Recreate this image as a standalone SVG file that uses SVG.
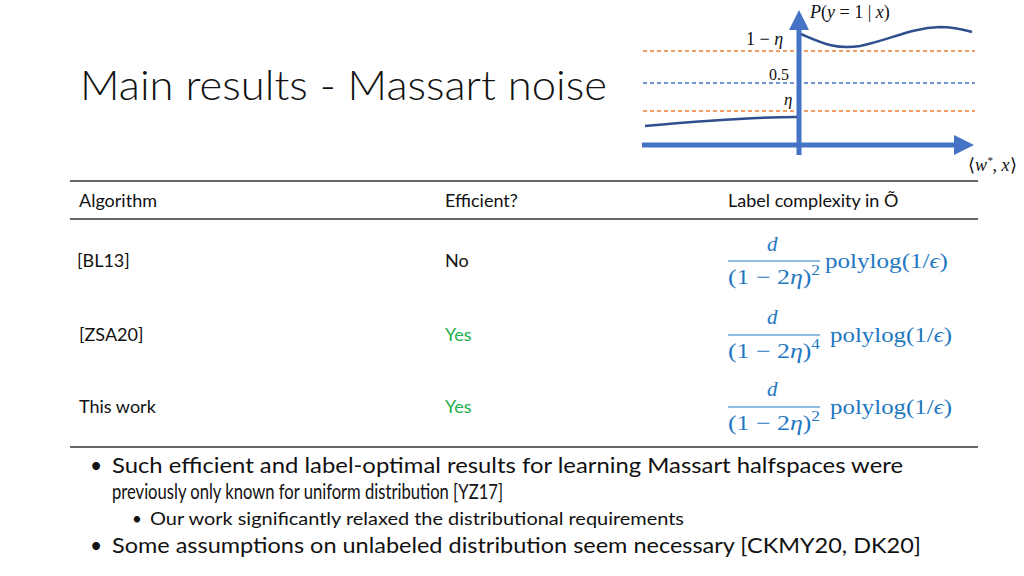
<svg xmlns="http://www.w3.org/2000/svg" width="1024" height="576" viewBox="0 0 1024 576">
<style>
.t{font-family:Lato,"Noto Sans","Liberation Sans",sans-serif;fill:#111}
.m{font-family:"Liberation Serif",serif;font-style:italic;fill:#111}
.n{font-family:"Liberation Serif",serif;fill:#111}
.b{font-family:"Liberation Serif",serif;fill:#1f78c1}
.bi{font-family:"Liberation Serif",serif;font-style:italic;fill:#1f78c1}
.g{fill:#22b04b}
</style>
<defs>
<marker id="ar" markerWidth="4" markerHeight="4" refX="2" refY="2" orient="auto" markerUnits="strokeWidth"><path d="M0,0 L4,2 L0,4 z" fill="#4472c4"/></marker>
</defs>
<rect width="1024" height="576" fill="#fff"/>
<text class="t" x="80" y="100" font-size="42" font-weight="300" textLength="527" lengthAdjust="spacingAndGlyphs">Main results - Massart noise</text>
<g id="chart">
<line x1="643" y1="51" x2="975" y2="51" stroke="#ed7d31" stroke-width="1.3" stroke-dasharray="4,3"/>
<line x1="643" y1="83" x2="975" y2="83" stroke="#4472c4" stroke-width="1.3" stroke-dasharray="4,3"/>
<line x1="643" y1="111" x2="975" y2="111" stroke="#ed7d31" stroke-width="1.3" stroke-dasharray="4,3"/>
<line x1="642" y1="145" x2="964" y2="145" stroke="#4472c4" stroke-width="5" marker-end="url(#ar)"/>
<line x1="799" y1="155" x2="799" y2="20" stroke="#4472c4" stroke-width="5" marker-end="url(#ar)"/>
<path d="M645,126 C700,121 750,117 797,117" fill="none" stroke="#2f4f8f" stroke-width="2.5"/>
<path d="M801,34 C820,42 835,50 860,46 C890,40 910,28 940,27 C955,27 965,30 972,32" fill="none" stroke="#2f4f8f" stroke-width="2.5"/>
<text class="m" x="810" y="18" font-size="18">P<tspan font-style="normal">(</tspan>y<tspan font-style="normal"> = 1 | </tspan>x<tspan font-style="normal">)</tspan></text>
<text class="m" x="746" y="45" font-size="18"><tspan font-style="normal">1 − </tspan>η</text>
<text class="n" x="769" y="80" font-size="16">0.5</text>
<text class="m" x="784" y="105" font-size="17">η</text>
<text class="m" x="968" y="171" font-size="18"><tspan font-style="normal">⟨</tspan>w<tspan font-size="11" dy="-7">*</tspan><tspan dy="7" font-style="normal">, </tspan>x<tspan font-style="normal">⟩</tspan></text>
</g>
<g id="table">
<line x1="70" y1="181" x2="978" y2="181" stroke="#333" stroke-width="1.5"/>
<line x1="70" y1="219" x2="978" y2="219" stroke="#333" stroke-width="1.5"/>
<line x1="70" y1="447" x2="978" y2="447" stroke="#333" stroke-width="1.5"/>
<text class="t" x="79" y="207" font-size="18">Algorithm</text>
<text class="t" x="445" y="207" font-size="18">Efficient?</text>
<text class="t" x="728" y="207" font-size="18">Label complexity in Õ</text>
<text class="t" x="77" y="267" font-size="18">[BL13]</text>
<text class="t" x="445" y="267" font-size="18">No</text>
<text class="t" x="79" y="341" font-size="18">[ZSA20]</text>
<text class="t g" x="445" y="341" font-size="18">Yes</text>
<text class="t" x="79" y="413" font-size="18">This work</text>
<text class="t g" x="445" y="413" font-size="18">Yes</text>
<g id="f1">
<text class="bi" x="767" y="251" font-size="21">d</text>
<line x1="728" y1="261" x2="820" y2="261" stroke="#1f78c1" stroke-width="1.2"/>
<text class="b" x="728" y="284" font-size="21" textLength="92" lengthAdjust="spacingAndGlyphs">(1 − 2<tspan font-style="italic">η</tspan>)<tspan font-size="14" dy="-9">2</tspan></text>
<text class="b" x="825" y="268" font-size="21" textLength="123" lengthAdjust="spacingAndGlyphs">polylog(1/<tspan font-style="italic">ϵ</tspan>)</text>
</g>
<g id="f2">
<text class="bi" x="767" y="324" font-size="21">d</text>
<line x1="728" y1="335" x2="820" y2="335" stroke="#1f78c1" stroke-width="1.2"/>
<text class="b" x="728" y="358" font-size="21" textLength="92" lengthAdjust="spacingAndGlyphs">(1 − 2<tspan font-style="italic">η</tspan>)<tspan font-size="14" dy="-9">4</tspan></text>
<text class="b" x="830" y="342" font-size="21" textLength="122" lengthAdjust="spacingAndGlyphs">polylog(1/<tspan font-style="italic">ϵ</tspan>)</text>
</g>
<g id="f3">
<text class="bi" x="767" y="396" font-size="21">d</text>
<line x1="728" y1="407" x2="820" y2="407" stroke="#1f78c1" stroke-width="1.2"/>
<text class="b" x="728" y="430" font-size="21" textLength="92" lengthAdjust="spacingAndGlyphs">(1 − 2<tspan font-style="italic">η</tspan>)<tspan font-size="14" dy="-9">2</tspan></text>
<text class="b" x="830" y="414" font-size="21" textLength="122" lengthAdjust="spacingAndGlyphs">polylog(1/<tspan font-style="italic">ϵ</tspan>)</text>
</g>
</g>
<g id="bullets">
<text class="t" x="90" y="473" font-size="21">•</text>
<text class="t" x="112" y="473" font-size="21" textLength="791" lengthAdjust="spacingAndGlyphs">Such efficient and label-optimal results for learning Massart halfspaces were</text>
<text class="t" x="112" y="499" font-size="21" textLength="391" lengthAdjust="spacingAndGlyphs">previously only known for uniform distribution [YZ17]</text>
<text class="t" x="132" y="525" font-size="17">•</text>
<text class="t" x="150" y="525" font-size="17" textLength="534" lengthAdjust="spacingAndGlyphs">Our work significantly relaxed the distributional requirements</text>
<text class="t" x="90" y="553" font-size="21">•</text>
<text class="t" x="112" y="553" font-size="21" textLength="809" lengthAdjust="spacingAndGlyphs">Some assumptions on unlabeled distribution seem necessary [CKMY20, DK20]</text>
</g>
</svg>
